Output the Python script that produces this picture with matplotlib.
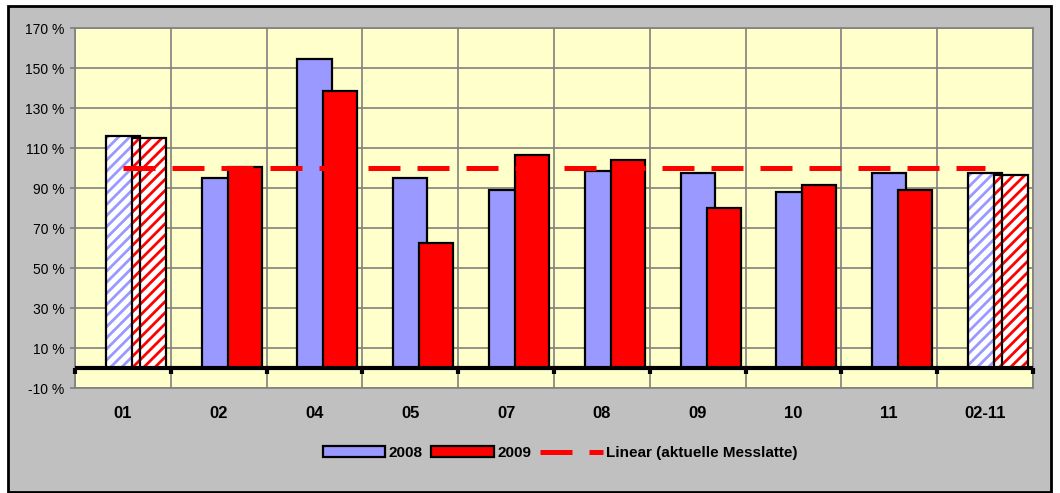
import matplotlib
matplotlib.use("Agg")
import matplotlib.pyplot as plt
from matplotlib.patches import Rectangle, Patch
from matplotlib.lines import Line2D
import numpy as np

categories = ["01", "02", "04", "05", "07", "08", "09", "10", "11", "02-11"]
val_2008 = [116, 95, 154.5, 95, 89, 98.5, 97.5, 88, 97.5, 97.5]
val_2009 = [115, 100.5, 138.5, 62.5, 106.5, 104, 80, 91.5, 89, 96.5]
benchmark = [100] * len(categories)
hatched = [True, False, False, False, False, False, False, False, False, True]
y_ticks = [-10, 10, 30, 50, 70, 90, 110, 130, 150, 170]

plt.rcParams['font.family'] = ['Liberation Sans', 'DejaVu Sans']
plt.rcParams['hatch.linewidth'] = 2.0

W, H = 1060, 493
fig = plt.figure(figsize=(W / 100, H / 100), dpi=100)
fig.patch.set_facecolor('white')
fig.patches.append(Rectangle((8 / W, 1 - 492 / H), (1051 - 8) / W, (492 - 6) / H,
                             transform=fig.transFigure, facecolor='#C0C0C0',
                             edgecolor='black', linewidth=2.0, zorder=-10))

ax = fig.add_axes([75 / W, 1 - 388 / H, (1033 - 75) / W, (388 - 28) / H])
ax.set_facecolor('#FFFFCC')

blue = '#9999FF'
red = '#FF0000'
x = np.arange(len(categories))
bw = 0.355
off = 0.27

for i in range(len(categories)):
    for xpos, v, col in ((x[i], val_2008[i], blue), (x[i] + off, val_2009[i], red)):
        if hatched[i]:
            ax.bar(xpos, v, width=bw, color='white', hatch='///', edgecolor=col,
                   linewidth=0, zorder=3)
            ax.bar(xpos, v, width=bw, fill=False, edgecolor='black',
                   linewidth=1.6, zorder=3.1)
        else:
            ax.bar(xpos, v, width=bw, color=col, edgecolor='black',
                   linewidth=1.6, zorder=3.1)

dash = (0, (6.4, 3.4))
ax.plot(x, benchmark, color=red, linewidth=3.6, linestyle=dash, zorder=5)

ax.axhline(0, color='black', linewidth=3.0, zorder=4)

ax.set_xlim(-0.5, len(categories) - 0.5)
ax.set_ylim(-10, 170)
ax.set_yticks(y_ticks)
ax.set_yticklabels([f"{v} %" for v in y_ticks], fontsize=10)
ax.set_xticks(x)
ax.set_xticklabels(categories, fontsize=12, fontweight='bold')
ax.set_xticks(np.arange(-0.5, len(categories)), minor=True)

ax.tick_params(axis='y', direction='out', length=3.6, width=1.2, color='#808080', pad=4)
ax.tick_params(axis='x', which='major', length=0, pad=13)
ax.tick_params(axis='x', which='minor', length=0)

ax.grid(axis='y', which='major', color='#808080', linewidth=1.2, zorder=1)
ax.grid(axis='x', which='minor', color='#808080', linewidth=1.2, zorder=1)
ax.set_axisbelow(True)

# boundary tick marks on the zero line
for b in np.arange(-0.5, len(categories)):
    ax.plot([b, b], [0, -2.8], color='black', linewidth=3, zorder=4, clip_on=False,
            solid_capstyle='butt')

for s in ax.spines.values():
    s.set_color('#808080')
    s.set_linewidth(1.2)

handles = [Patch(facecolor=blue, edgecolor='black', linewidth=1.6),
           Patch(facecolor=red, edgecolor='black', linewidth=1.6),
           Line2D([0], [0], color=red, linewidth=3.6, linestyle=dash)]
labels = ["2008", "2009", "Linear (aktuelle Messlatte)"]
fig.legend(handles, labels, loc='center', bbox_to_anchor=(560 / W, 1 - 453 / H),
           ncol=3, frameon=False, prop={'weight': 'bold', 'size': 11},
           handlelength=4.1, handleheight=0.7, handletextpad=0.2,
           columnspacing=0.6)

fig.savefig('out.png', dpi=100, facecolor=fig.get_facecolor())
